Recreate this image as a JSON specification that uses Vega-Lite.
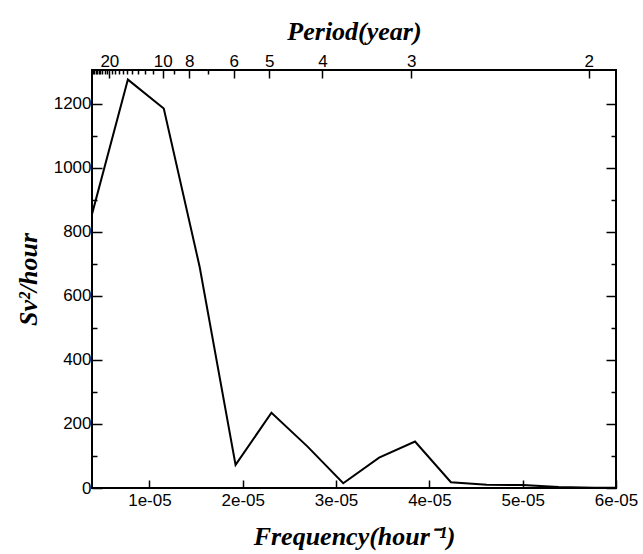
{
  "$schema": "https://vega.github.io/schema/vega-lite/v6.json",
  "width": 524,
  "height": 418,
  "padding": {"left": 15, "top": 18, "right": 5, "bottom": 5},
  "background": "white",
  "config": {
    "view": {"stroke": "black", "strokeWidth": 2},
    "axis": {
      "labelFont": "Liberation Sans",
      "labelFontSize": 17,
      "labelColor": "black",
      "titleFont": "Liberation Serif",
      "titleFontSize": 26,
      "titleFontStyle": "italic",
      "titleFontWeight": "bold",
      "titleColor": "black",
      "tickColor": "black",
      "tickWidth": 1.5,
      "domain": false,
      "grid": false
    }
  },
  "data": {
    "values": [
      {"freq": 3.846e-6, "power": 855},
      {"freq": 7.692e-6, "power": 1275},
      {"freq": 1.1538e-5, "power": 1185},
      {"freq": 1.5385e-5, "power": 690},
      {"freq": 1.9231e-5, "power": 72},
      {"freq": 2.3077e-5, "power": 235},
      {"freq": 2.6923e-5, "power": 130},
      {"freq": 3.0769e-5, "power": 15},
      {"freq": 3.4615e-5, "power": 95},
      {"freq": 3.8462e-5, "power": 145},
      {"freq": 4.2308e-5, "power": 18},
      {"freq": 4.6154e-5, "power": 10},
      {"freq": 5.0e-5, "power": 9},
      {"freq": 5.3846e-5, "power": 3},
      {"freq": 5.7692e-5, "power": 1},
      {"freq": 6.1538e-5, "power": 0.5}
    ]
  },
  "layer": [
    {
      "mark": {"type": "line", "color": "black", "strokeWidth": 2, "clip": true},
      "encoding": {
        "x": {
          "field": "freq", "type": "quantitative",
          "scale": {"domain": [3.846e-6, 6e-5], "nice": false, "zero": false},
          "axis": {
            "orient": "bottom",
            "values": [1e-5, 2e-5, 3e-5, 4e-5, 5e-5, 6e-5],
            "labelExpr": "format(round(datum.value * 1e5), 'd') + 'e-05'",
            "tickSize": -8,
            "labelPadding": 12,
            "labelOverlap": false,
            "labelFlush": false,
            "title": "Frequency(hour⁻¹)",
            "titlePadding": 15
          }
        },
        "y": {
          "field": "power", "type": "quantitative",
          "scale": {"domain": [0, 1305], "nice": false},
          "axis": {
            "orient": "left",
            "values": [0, 200, 400, 600, 800, 1000, 1200],
            "format": "d",
            "tickSize": -10,
            "labelPadding": 11,
            "labelOverlap": false,
            "title": "Sv²/hour",
            "titlePadding": 12
          }
        }
      }
    },
    {
      "mark": {"type": "line", "strokeOpacity": 0},
      "encoding": {
        "x": {
          "field": "freq", "type": "quantitative",
          "axis": {
            "orient": "top",
            "values": [5.7078e-6, 1.14155e-5, 1.42694e-5, 1.90259e-5, 2.28311e-5, 2.85388e-5, 3.80518e-5, 5.70776e-5],
            "labelExpr": "format(round(1 / (datum.value * 8760)), 'd')",
            "tickSize": -8,
            "labelPadding": 8,
            "labelOverlap": false,
            "labelFlush": false,
            "title": "Period(year)",
            "titlePadding": 8
          }
        },
        "y": {
          "field": "power", "type": "quantitative",
          "axis": {
            "orient": "right",
            "values": [0, 200, 400, 600, 800, 1000, 1200],
            "tickSize": -10,
            "labels": false,
            "title": null
          }
        }
      }
    },
    {
      "mark": {"type": "line", "strokeOpacity": 0},
      "encoding": {
        "x": {
          "field": "freq", "type": "quantitative",
          "axis": {
            "orient": "top",
            "values": [3.9364e-6, 4.077e-6, 4.228e-6, 4.3907e-6, 4.5662e-6, 4.7565e-6, 4.9633e-6, 5.189e-6, 5.436e-6, 6.0082e-6, 6.342e-6, 6.715e-6, 7.1347e-6, 7.6104e-6, 8.154e-6, 8.7812e-6, 9.5129e-6, 1.03778e-5, 1.26839e-5, 1.63079e-5],
            "tickSize": -4,
            "labels": false,
            "title": null
          }
        },
        "y": {
          "field": "power", "type": "quantitative",
          "axis": {
            "orient": "left",
            "values": [100, 300, 500, 700, 900, 1100],
            "tickSize": -5,
            "labels": false,
            "title": null
          }
        }
      }
    },
    {
      "mark": {"type": "line", "strokeOpacity": 0},
      "encoding": {
        "x": {"field": "freq", "type": "quantitative", "axis": null},
        "y": {
          "field": "power", "type": "quantitative",
          "axis": {
            "orient": "right",
            "values": [100, 300, 500, 700, 900, 1100],
            "tickSize": -5,
            "labels": false,
            "title": null
          }
        }
      }
    }
  ],
  "resolve": {"axis": {"x": "independent", "y": "independent"}}
}
